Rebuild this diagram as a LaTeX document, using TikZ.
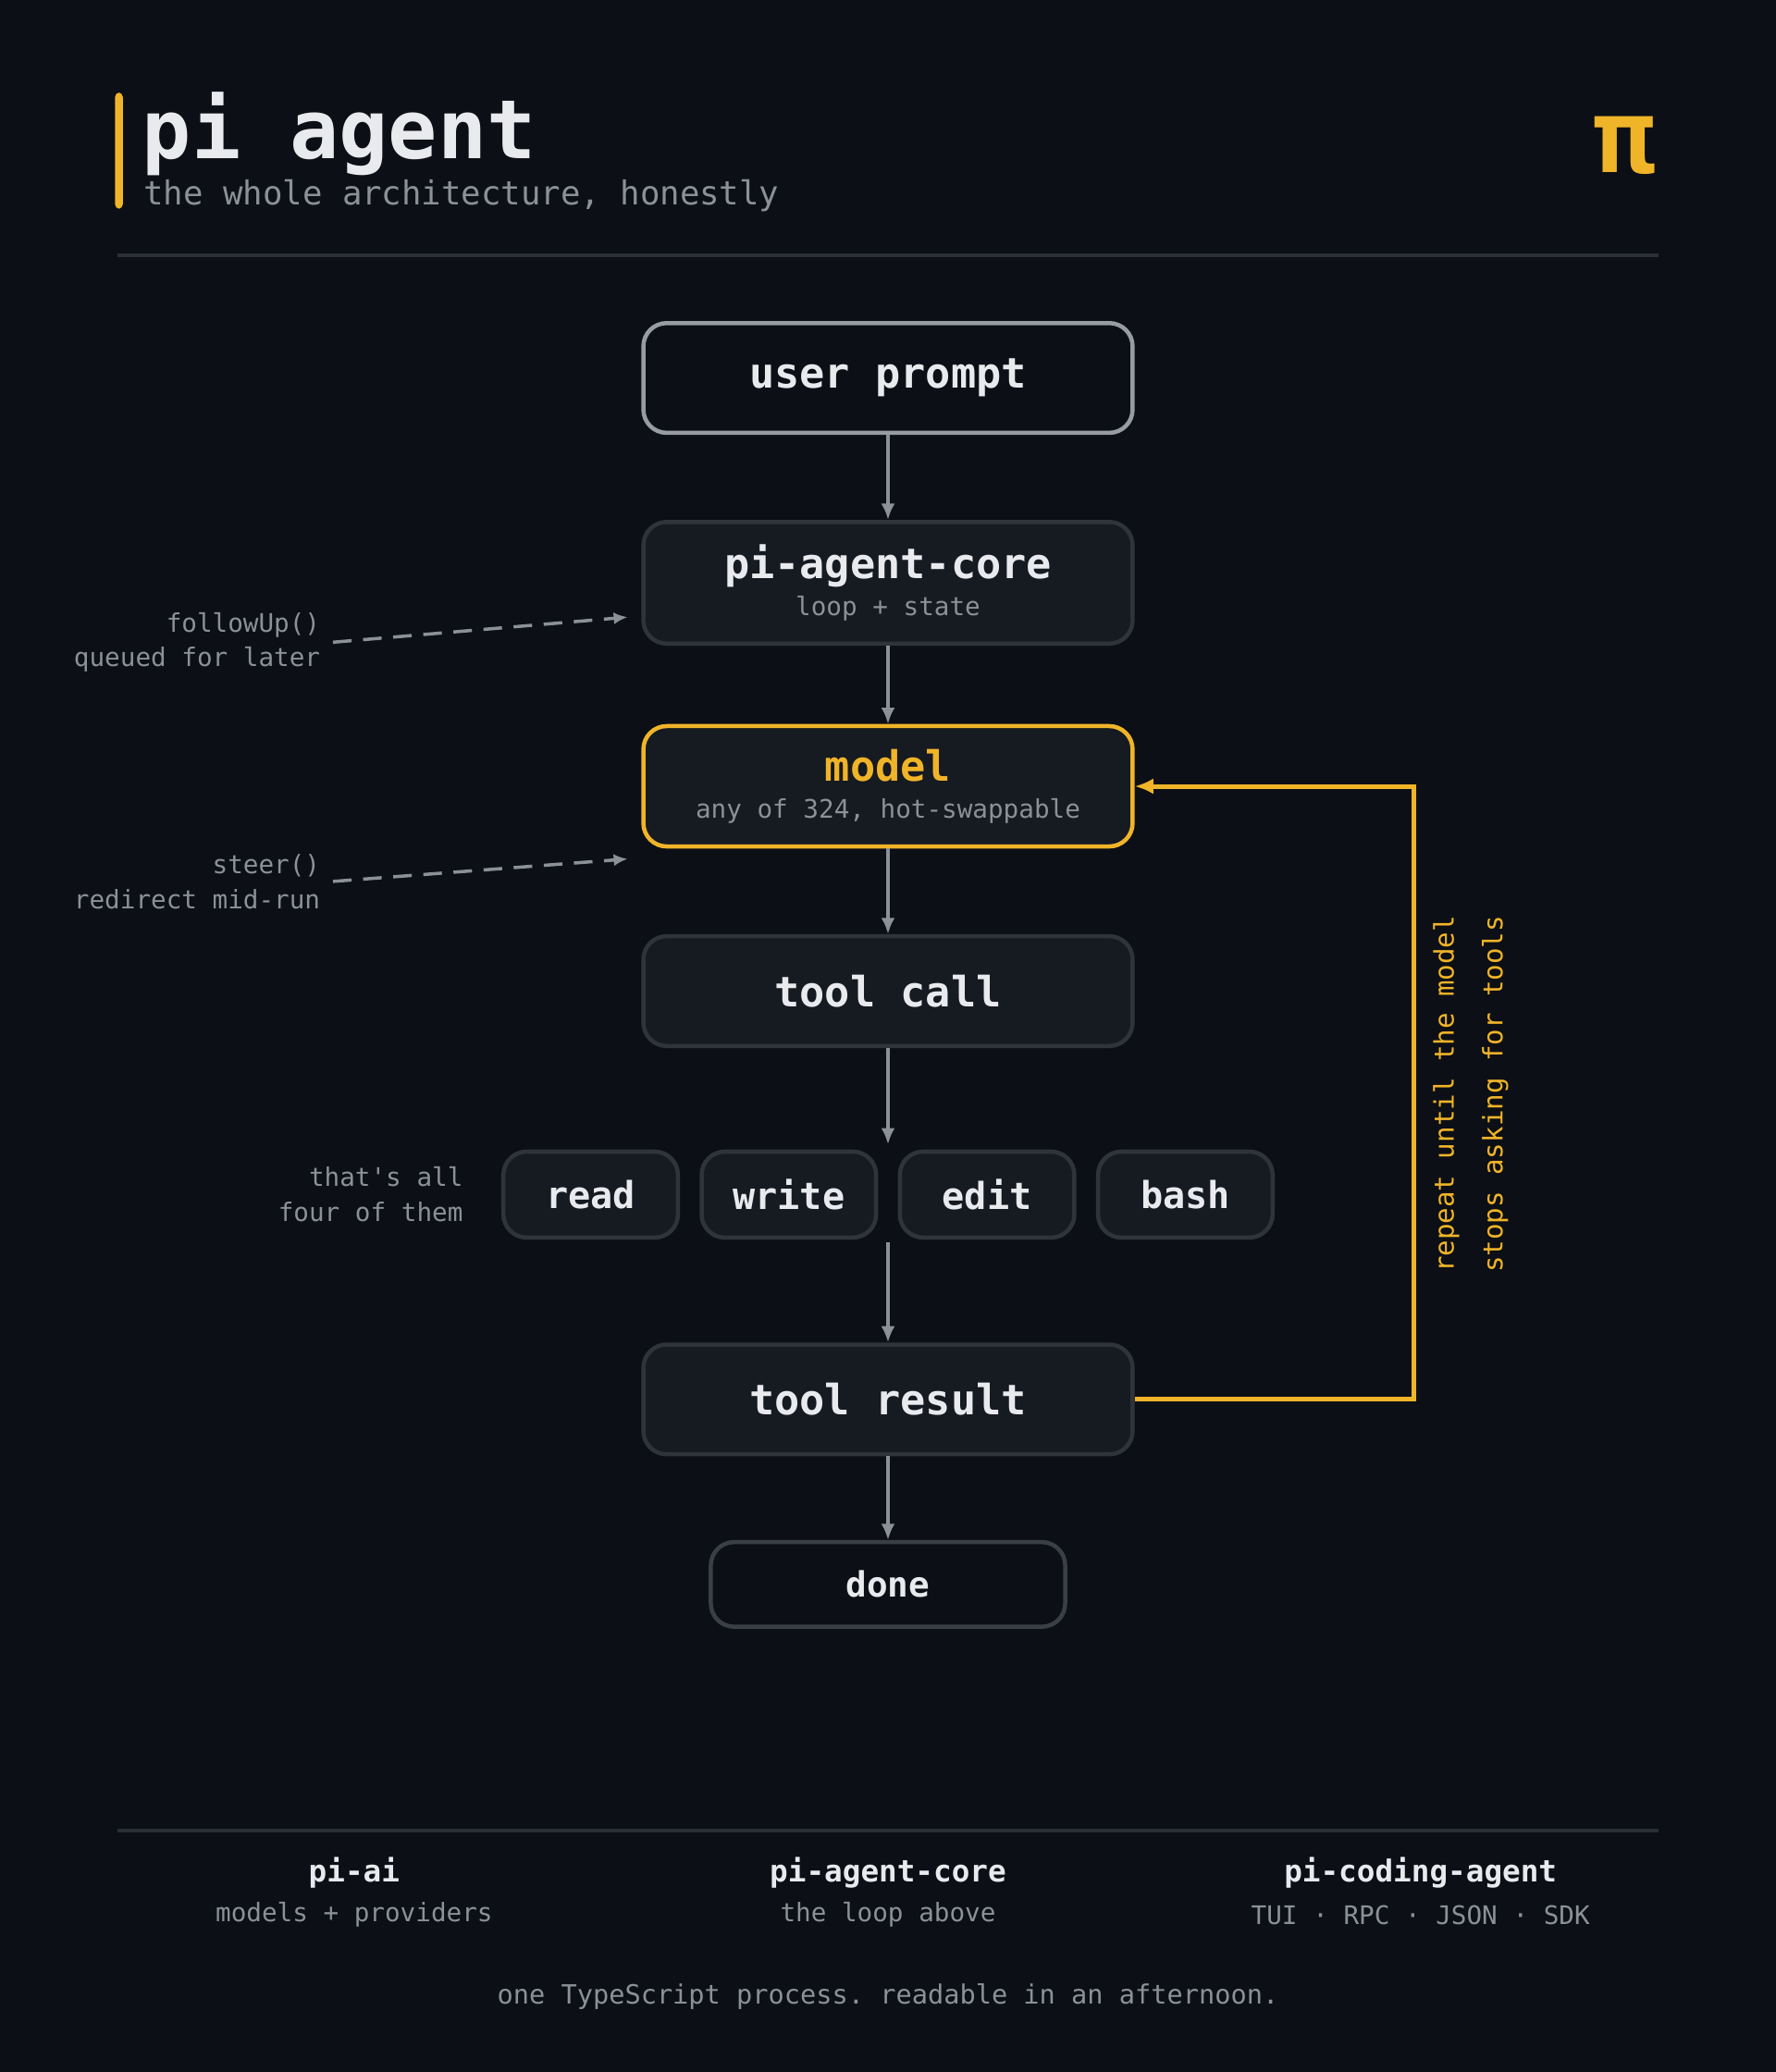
\documentclass[tikz,border=0pt]{standalone}
\usepackage{fontspec}
\setmonofont{DejaVu Sans Mono}
\usetikzlibrary{positioning,arrows.meta}
\definecolor{bg}{HTML}{0C0F15}
\definecolor{card}{HTML}{161A21}
\definecolor{edge}{HTML}{2F343C}
\definecolor{doneedge}{HTML}{3A3F47}
\definecolor{ink}{HTML}{E8EAED}
\definecolor{dim}{HTML}{8B9099}
\definecolor{gold}{HTML}{F0B429}
\definecolor{rule}{HTML}{2A2E35}
\begin{document}
\begin{tikzpicture}[x=0.01cm, y=-0.01cm, font=\ttfamily,
  box/.style={draw=edge, fill=card, line width=0.9pt, rounded corners=5pt, text=ink, minimum width=3.7cm, align=center},
  tool/.style={box, minimum width=1.32cm, minimum height=0.65cm, font=\ttfamily\bfseries\fontsize{8}{9}\selectfont},
  big/.style={font=\ttfamily\bfseries\fontsize{9}{10}\selectfont},
  sub/.style={font=\ttfamily\fontsize{5.5}{6}\selectfont, text=dim},
  flow/.style={draw=dim, line width=0.8pt, -{Latex[length=3.5pt,width=3pt]}},
  hint/.style={draw=dim, line width=0.7pt, dash pattern=on 4pt off 2.5pt, -{Latex[length=3pt,width=2.6pt]}},
  note/.style={font=\ttfamily\fontsize{5.5}{7.5}\selectfont, text=dim, align=right, anchor=east, inner sep=0},
  loop/.style={draw=gold, line width=1pt, -{Latex[length=4pt,width=3.4pt]}}]
\fill[bg] (0,0) rectangle (1344,1568);
% header
\fill[gold, rounded corners=1pt] (87,70) rectangle (93,158);
\node[anchor=base west, inner sep=0, text=ink, font=\ttfamily\bfseries\fontsize{17.6}{20}\selectfont] (title) at (107,120) {pi agent};
\node[anchor=base west, inner sep=0, text=dim, font=\ttfamily\fontsize{7.1}{9}\selectfont] (subtitle) at (108,155) {the whole architecture, honestly};
\node[text=gold, font=\ttfamily\bfseries\fontsize{22}{24}\selectfont] (logo) at (1230,110) {π};
\draw[rule, line width=0.8pt] (89,193) -- (1255,193);
% flow
\node[box, draw=dim!90, fill=bg, minimum height=0.83cm, big] (prompt) at (672,286) {user prompt};
\node[box, minimum height=0.92cm] (core) at (672,441) {{\ttfamily\bfseries\fontsize{9}{10}\selectfont pi-agent-core}\\[-4pt]{\ttfamily\fontsize{5.5}{6}\selectfont\color{dim}loop + state}};
\node[box, draw=gold, minimum height=0.91cm] (model) at (672,595) {{\ttfamily\bfseries\fontsize{9}{10}\selectfont\color{gold}model}\\[-4pt]{\ttfamily\fontsize{5.5}{6}\selectfont\color{dim}any of 324, hot-swappable}};
\node[box, minimum height=0.83cm, big] (call) at (672,750) {tool call};
\node[tool] (read) at (447,904) {read};
\node[tool] (write) at (597,904) {write};
\node[tool] (edit) at (747,904) {edit};
\node[tool] (bash) at (897,904) {bash};
\node[box, minimum height=0.83cm, big] (result) at (672,1059) {tool result};
\node[box, fill=bg, draw=doneedge, minimum width=2.68cm, minimum height=0.64cm, font=\ttfamily\bfseries\fontsize{7.5}{9}\selectfont] (done) at (672,1199) {done};
\coordinate (toolsin) at (672,866);
\coordinate (toolsout) at (672,940);
\draw[flow] (prompt) -- (core);
\draw[flow] (core) -- (model);
\draw[flow] (model) -- (call);
\draw[flow] (call) -- (toolsin);
\draw[flow] (toolsout) -- (result);
\draw[flow] (result) -- (done);
% side notes
\node[note] (follow) at (243,486) {followUp()\\queued for later};
\node[note] (steer) at (243,667) {steer()\\redirect mid-run};
\node[note] (four) at (351,904) {that's all\\four of them};
\coordinate (followtip) at (475,467);
\coordinate (steertip) at (475,650);
\draw[hint] (follow.east) ++(9,0) -- (followtip);
\draw[hint] (steer.east) ++(9,0) -- (steertip);
% loop back
\coordinate (loopcorner) at (1070,1059);
\draw[loop] (result.east) -- (loopcorner) |- (model.east);
\node[rotate=90, text=gold, align=center, font=\ttfamily\fontsize{5.8}{10.5}\selectfont] (loopnote) at (1113,828) {repeat until the model\\stops asking for tools};
% footer
\draw[rule, line width=0.8pt] (89,1385) -- (1255,1385);
\foreach \x/\n/\d/\s in {268/ai/pi-ai/models + providers, 672/pac/pi-agent-core/the loop above, 1075/pca/pi-coding-agent/TUI · RPC · JSON · SDK}{
  \node[text=ink, font=\ttfamily\bfseries\fontsize{6.5}{8}\selectfont] (\n) at (\x,1417) {\d};
  \node[sub] (\n-sub) at (\x,1449) {\s};
}
\node[sub, font=\ttfamily\fontsize{5.7}{7}\selectfont] (tagline) at (672,1511) {one TypeScript process. readable in an afternoon.};
\end{tikzpicture}
\end{document}
